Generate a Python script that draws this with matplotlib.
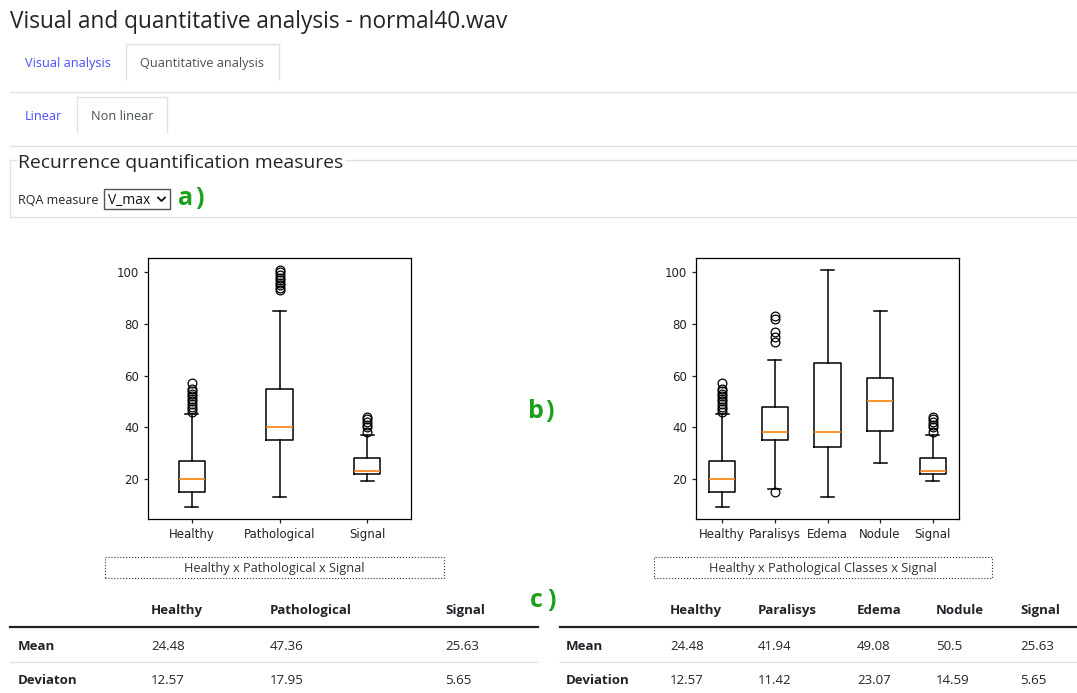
import matplotlib.pyplot as plt
from matplotlib.lines import Line2D
from matplotlib.patches import Rectangle

W, H = 1077, 693

# --- data ---
left_labels = ["Healthy", "Pathological", "Signal"]
left_whislo = [9, 13, 19]
left_q1 = [15, 35, 22]
left_med = [20, 40, 23]
left_q3 = [27, 55, 28]
left_whishi = [45, 85, 37]
left_fliers = [
    [46, 47, 48, 49, 50, 51, 52, 53, 54, 55, 57],
    [93, 94, 95, 96, 97, 98, 99, 100, 101],
    [38, 40, 41, 42, 43, 44],
]

right_labels = ["Healthy", "Paralisys", "Edema", "Nodule", "Signal"]
right_whislo = [9, 16, 13, 26, 19]
right_q1 = [15, 35, 32.5, 38.5, 22]
right_med = [20, 38, 38, 50, 23]
right_q3 = [27, 48, 65, 59, 28]
right_whishi = [45, 66, 101, 85, 37]
right_fliers = [
    [46, 47, 48, 49, 50, 51, 52, 53, 54, 55, 57],
    [15, 73, 75, 77, 82, 83],
    [],
    [],
    [38, 40, 41, 42, 43, 44],
]

left_cols = ["Healthy", "Pathological", "Signal"]
left_mean = ["24.48", "47.36", "25.63"]
left_dev = ["12.57", "17.95", "5.65"]
right_cols = ["Healthy", "Paralisys", "Edema", "Nodule", "Signal"]
right_mean = ["24.48", "41.94", "49.08", "50.5", "25.63"]
right_dev = ["12.57", "11.42", "23.07", "14.59", "5.65"]

UI_FONT = ["Open Sans", "DejaVu Sans"]
BLUE = "#4d4dff"
GREEN = "#1ca01c"
LIGHT = "#dee2e6"

fig = plt.figure(figsize=(W / 100, H / 100), dpi=100)


def fx(x):
    return x / W


def fy(y):
    return 1 - y / H


def txt(x, y, s, size=9.5, color="#212529", weight="normal", ha="left"):
    # y is the visual middle of the capitals, placed via the baseline
    base = y + 0.36 * size * 100 / 72
    fig.text(fx(x), fy(base), s, fontsize=size, color=color, fontweight=weight,
             ha=ha, va="baseline", family=UI_FONT)


def hline(x0, x1, y, color=LIGHT, lw=1.0):
    fig.add_artist(Line2D([fx(x0), fx(x1)], [fy(y), fy(y)], color=color, lw=lw))


def vline(x, y0, y1, color=LIGHT, lw=1.0):
    fig.add_artist(Line2D([fx(x), fx(x)], [fy(y0), fy(y1)], color=color, lw=lw))


def tab(x0, x1, y0, y1):
    vline(x0, y0, y1)
    vline(x1, y0, y1)
    hline(x0, x1, y0)


def marker_label(x, baseline, letter):
    y = baseline - 9
    txt(x, y, letter, size=18, color=GREEN, weight="bold")
    txt(x + 17.5, y, ")", size=18, color=GREEN, weight="bold")


# --- page header and tabs ---
txt(10, 20, "Visual and quantitative analysis - normal40.wav", size=16.3)

txt(25, 62, "Visual analysis", color=BLUE, size=9.2)
tab(126, 279, 44, 79)
txt(202.5, 62, "Quantitative analysis", color="#495057", ha="center", size=9.2)
hline(10, 1077, 92)

txt(25, 115, "Linear", color=BLUE, size=9.2)
tab(77, 167, 97, 132)
txt(122, 115, "Non linear", color="#495057", ha="center", size=9.2)
hline(10, 1077, 146)

# fieldset
hline(10, 16, 160)
hline(346, 1077, 160)
vline(10, 160, 217)
hline(10, 1077, 217)
txt(18, 161, "Recurrence quantification measures", size=13.9)
txt(18, 199.5, "RQA measure", size=9)
fig.add_artist(Rectangle((fx(104), fy(209)), fx(170) - fx(104), fy(189) - fy(209),
                         transform=fig.transFigure, fill=False, ec="#555555", lw=1))
txt(108, 199.5, "V_max", size=10, color="#111111")
fig.add_artist(Line2D([fx(158), fx(161.5), fx(165)], [fy(197.5), fy(201), fy(197.5)],
                      color="#111111", lw=1.3))
marker_label(178, 205, "a")


# --- box plots ---
def make_stats(labels, whislo, q1, med, q3, whishi, fliers):
    stats = []
    for i, lab in enumerate(labels):
        stats.append(dict(label=lab, whislo=whislo[i], q1=q1[i], med=med[i],
                          q3=q3[i], whishi=whishi[i], fliers=fliers[i]))
    return stats


def box_axes(x0, x1, stats):
    ax = fig.add_axes([fx(x0), fy(519), fx(x1) - fx(x0), fy(258) - fy(519)])
    ax.bxp(stats,
           boxprops=dict(lw=1.1), whiskerprops=dict(lw=1.1), capprops=dict(lw=1.1),
           medianprops=dict(lw=1.2, color="#ff7f0e"),
           flierprops=dict(marker="o", markersize=6.3, markerfacecolor="none",
                           markeredgecolor="black", markeredgewidth=0.9))
    ax.set_yticks([20, 40, 60, 80, 100])
    ax.tick_params(labelsize=8.5, length=3, width=0.9, colors="#222222")
    for sp in ax.spines.values():
        sp.set_linewidth(0.9)
    return ax


box_axes(148, 411, make_stats(left_labels, left_whislo, left_q1, left_med,
                              left_q3, left_whishi, left_fliers))
box_axes(696, 959, make_stats(right_labels, right_whislo, right_q1, right_med,
                              right_q3, right_whishi, right_fliers))

marker_label(528, 418, "b")


# --- captions ---
def caption(x0, x1, s):
    fig.add_artist(Rectangle((fx(x0), fy(578)), fx(x1) - fx(x0), fy(557) - fy(578),
                             transform=fig.transFigure, fill=False, ec="#333333",
                             lw=0.8, ls=":"))
    txt((x0 + x1) / 2, 567.5, s, size=9.2, color="#333333", ha="center")


caption(105, 444, "Healthy x Pathological x Signal")
caption(654, 992, "Healthy x Pathological Classes x Signal")

marker_label(530, 607, "c")


# --- tables ---
def table(x_row, x0, x1, col_x, cols, means, devs, dev_label):
    for x, c in zip(col_x, cols):
        txt(x, 609, c, weight="bold")
    hline(x0, x1, 627, color="#222222", lw=1.6)
    txt(x_row, 645, "Mean", weight="bold")
    for x, v in zip(col_x, means):
        txt(x, 645, v)
    hline(x0, x1, 662, color=LIGHT, lw=1.0)
    txt(x_row, 679, dev_label, weight="bold")
    for x, v in zip(col_x, devs):
        txt(x, 679, v)


table(18, 10, 538, [151, 270, 445], left_cols, left_mean, left_dev, "Deviaton")
table(566, 560, 1077, [670, 758, 857, 936, 1020], right_cols, right_mean, right_dev, "Deviation")

fig.savefig("out.png", dpi=100)
